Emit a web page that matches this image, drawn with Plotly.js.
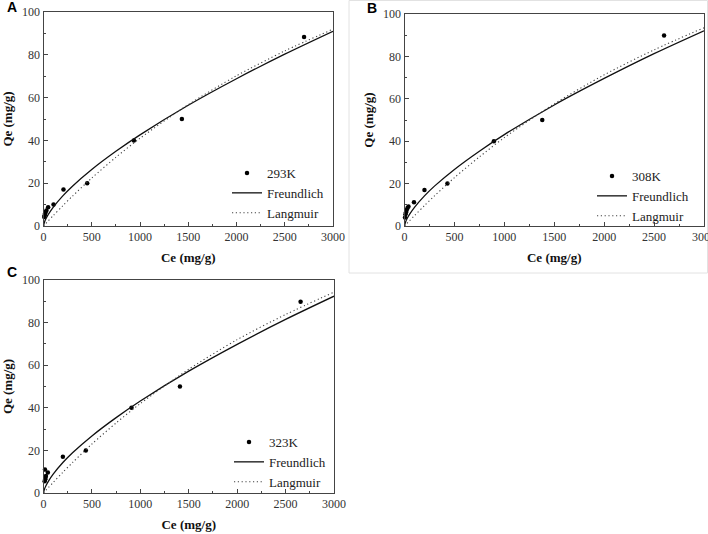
<!DOCTYPE html>
<html>
<head>
<meta charset="utf-8">
<script src="https://cdn.plot.ly/plotly-3.0.1.min.js"></script>
<style>html,body{margin:0;padding:0;background:#fff;}#chart{width:708px;height:534px;}</style>
</head>
<body>
<div id="chart"></div>
<script>
// Experimental points (Ce, Qe)
const ceA = [8, 12, 16, 22, 30, 48, 104, 207, 453, 937, 1434, 2700];
const qeA = [4.2, 5.0, 5.8, 6.5, 7.2, 8.8, 10.1, 17, 20, 40, 50, 88.3];
const ceB = [5, 10, 15, 22, 30, 40, 95, 200, 430, 895, 1380, 2600];
const qeB = [4, 5.5, 6.5, 7.5, 8.5, 9.2, 11.2, 17, 20, 40, 50, 89.8];
const ceC = [12, 15, 18, 20, 25, 45, 200, 437, 909, 1409, 2655];
const qeC = [5.5, 11, 6.5, 7.2, 8, 9.6, 17, 20, 40, 50, 89.8];

// Fitted curves
const ceFit = [0, 10, 25, 50, 100, 200, 300, 500, 750, 1000, 1500, 2000, 2500, 3000];
const freundA = [0, 1.78, 3.35, 5.40, 8.71, 14.05, 18.6, 26.4, 34.9, 42.6, 56.4, 68.8, 80.3, 91.0];
const langA   = [0, 0.49, 1.22, 2.44, 4.83, 9.48, 13.95, 22.4, 32.1, 41.0, 56.7, 70.2, 81.8, 92.0];
const freundB = [0, 1.80, 3.39, 5.46, 8.81, 14.2, 18.8, 26.7, 35.3, 43.1, 57.1, 69.6, 81.3, 92.1];
const langB   = [0, 0.50, 1.25, 2.48, 4.91, 9.63, 14.2, 22.8, 32.6, 41.7, 57.6, 71.3, 83.1, 93.5];
const freundC = [0, 1.81, 3.40, 5.48, 8.84, 14.3, 18.9, 26.8, 35.4, 43.2, 57.2, 69.8, 81.5, 92.4];
const langC   = [0, 0.50, 1.25, 2.50, 4.95, 9.72, 14.3, 23.0, 32.9, 42.0, 58.1, 72.0, 83.8, 94.3];

const tempLabels = ['293K', '308K', '323K'];
const panelLetters = ['A', 'B', 'C'];
const xTitle = 'Ce (mg/g)';
const yTitle = 'Qe (mg/g)';

const W = 708, H = 534;
const px = v => v / W;
const py = v => 1 - v / H;

const panels = [
  {ce: ceA, qe: qeA, fr: freundA, la: langA, xa: 'x', ya: 'y', lg: 'legend'},
  {ce: ceB, qe: qeB, fr: freundB, la: langB, xa: 'x2', ya: 'y2', lg: 'legend2'},
  {ce: ceC, qe: qeC, fr: freundC, la: langC, xa: 'x3', ya: 'y3', lg: 'legend3'}
];

const traces = [];
panels.forEach((p, i) => {
  traces.push({x: p.ce, y: p.qe, type: 'scatter', mode: 'markers', name: tempLabels[i],
    xaxis: p.xa, yaxis: p.ya, legend: p.lg, marker: {color: '#000', size: 4.5}, cliponaxis: false});
  traces.push({x: ceFit, y: p.fr, type: 'scatter', mode: 'lines', name: 'Freundlich',
    xaxis: p.xa, yaxis: p.ya, legend: p.lg, line: {color: '#111', width: 1.3, shape: 'spline', smoothing: 0.8}});
  traces.push({x: ceFit, y: p.la, type: 'scatter', mode: 'lines', name: 'Langmuir',
    xaxis: p.xa, yaxis: p.ya, legend: p.lg, line: {color: '#444', width: 1.1, dash: '1.2px,2.6px', shape: 'spline', smoothing: 0.8}});
});

const serif = 'Liberation Serif, Times New Roman, serif';
const tickFont = {family: serif, size: 12, color: '#333'};
const titleFont = {family: serif, size: 13, color: '#111', weight: 'bold'};
function xAxis(dom, anchor) {
  return {domain: dom, anchor: anchor, range: [0, 3000], autorange: false, showgrid: false, zeroline: false,
    showline: true, linecolor: '#444', linewidth: 1, mirror: true, ticks: 'inside', ticklen: 4, tickcolor: '#444',
    dtick: 500, tick0: 0, tickfont: tickFont, ticklabeloverflow: 'allow',
    minor: {ticks: 'inside', ticklen: 2, dtick: 250, tick0: 0, tickcolor: '#444'},
    title: {text: '<b>' + xTitle + '</b>', font: titleFont, standoff: 9}};
}
function yAxis(dom, anchor) {
  return {domain: dom, anchor: anchor, range: [0, 100], autorange: false, showgrid: false, zeroline: false,
    showline: true, linecolor: '#444', linewidth: 1, mirror: true, ticks: 'inside', ticklen: 4, tickcolor: '#444',
    dtick: 20, tick0: 0, tickfont: tickFont, ticklabeloverflow: 'allow',
    minor: {ticks: 'inside', ticklen: 2, dtick: 10, tick0: 0, tickcolor: '#444'},
    title: {text: '<b>' + yTitle + '</b>', font: titleFont, standoff: 6}};
}
const legFont = {family: serif, size: 13, color: '#222'};
function legend(xp, yp) {
  return {x: px(xp), y: py(yp), xanchor: 'left', yanchor: 'top', bgcolor: 'rgba(0,0,0,0)',
    font: legFont, tracegroupgap: 0, itemwidth: 30};
}

const layout = {
  width: W, height: H, margin: {l: 0, r: 0, t: 0, b: 0}, paper_bgcolor: '#fff', plot_bgcolor: '#fff',
  showlegend: true,
  xaxis: xAxis([px(43.5), px(333)], 'y'),
  yaxis: yAxis([py(226), py(12)], 'x'),
  xaxis2: xAxis([px(404.5), px(704)], 'y2'),
  yaxis2: yAxis([py(226), py(14)], 'x2'),
  xaxis3: xAxis([px(43.5), px(334)], 'y3'),
  yaxis3: yAxis([py(493), py(280)], 'x3'),
  legend: legend(227, 158),
  legend2: legend(592, 161),
  legend3: legend(229, 427),
  shapes: [{type: 'rect', xref: 'paper', yref: 'paper', x0: px(349), x1: px(707.5), y0: py(273), y1: py(0.5),
    line: {color: '#e2e2e2', width: 1}, layer: 'below'}],
  annotations: [
    {text: '<b>' + panelLetters[0] + '</b>', x: px(5), y: py(7), xref: 'paper', yref: 'paper', xanchor: 'left', yanchor: 'middle', showarrow: false,
      font: {family: 'Liberation Sans, Arial, sans-serif', size: 14, color: '#000'}},
    {text: '<b>' + panelLetters[1] + '</b>', x: px(365), y: py(8), xref: 'paper', yref: 'paper', xanchor: 'left', yanchor: 'middle', showarrow: false,
      font: {family: 'Liberation Sans, Arial, sans-serif', size: 14, color: '#000'}},
    {text: '<b>' + panelLetters[2] + '</b>', x: px(5), y: py(272), xref: 'paper', yref: 'paper', xanchor: 'left', yanchor: 'middle', showarrow: false,
      font: {family: 'Liberation Sans, Arial, sans-serif', size: 14, color: '#000'}}
  ]
};

Plotly.newPlot('chart', traces, layout, {staticPlot: true, displayModeBar: false});
</script>
</body>
</html>
